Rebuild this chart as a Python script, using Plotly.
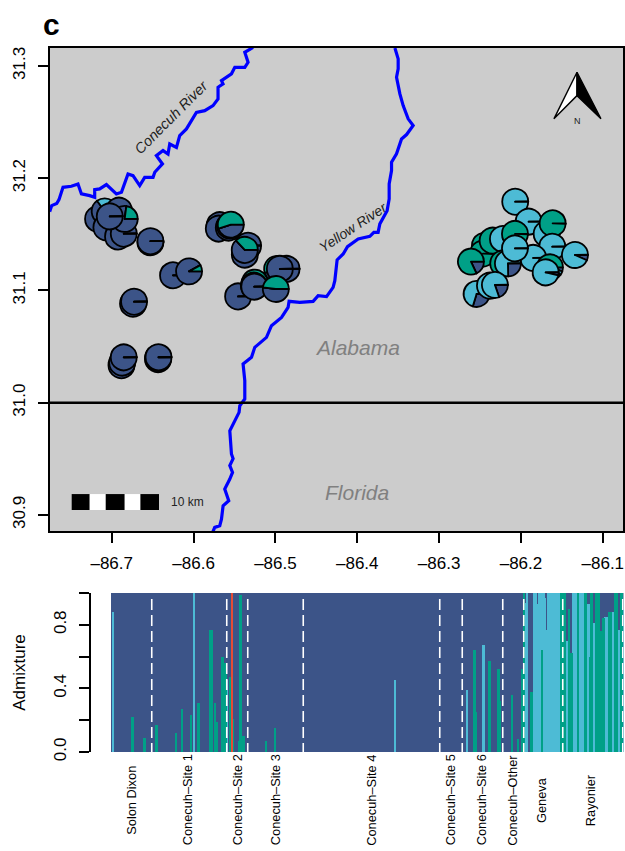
import plotly.graph_objects as go

NAVY, LB, GREEN, RED = "#3C5488", "#4DBBD5", "#00A087", "#E64B35"
FONT = "Liberation Sans"
W, H = 625, 851

# ---------- map data ----------
conecuh_lon = [-86.7758,-86.7733,-86.7672,-86.7644,-86.7595,-86.7493,-86.7412,-86.7370,-86.7269,-86.7208,-86.7208,-86.7147,-86.7065,-86.7004,-86.6943,-86.6881,-86.6801,-86.6740,-86.6658,-86.6597,-86.6495,-86.6474,-86.6380,-86.6454,-86.6373,-86.6312,-86.6291,-86.6209,-86.6169,-86.6087,-86.5965,-86.5863,-86.5762,-86.5701,-86.5701,-86.5640,-86.5659,-86.5537,-86.5496,-86.5374,-86.5334,-86.5374,-86.5273]
conecuh_lat = [31.1702,31.1756,31.1774,31.1809,31.1919,31.1928,31.1949,31.1860,31.1845,31.1830,31.1898,31.1905,31.1943,31.1905,31.1860,31.1875,31.2038,31.2023,31.1934,31.2008,31.2008,31.2053,31.2127,31.2201,31.2246,31.2216,31.2305,31.2275,31.2380,31.2439,31.2587,31.2602,31.2647,31.2707,31.2810,31.2840,31.2870,31.2930,31.2988,31.2988,31.3033,31.3122,31.3165]

yellow_lon = [-86.3540,-86.3500,-86.3500,-86.3520,-86.3479,-86.3439,-86.3378,-86.3317,-86.3397,-86.3459,-86.3520,-86.3581,-86.3581,-86.3610,-86.3610,-86.3635,-86.3724,-86.3745,-86.3797,-86.3846,-86.3989,-86.4119,-86.4172,-86.4246,-86.4274,-86.4295,-86.4375,-86.4478,-86.4539,-86.4702,-86.4833,-86.4845,-86.4925,-86.5048,-86.5109,-86.5252,-86.5292,-86.5395,-86.5374,-86.5374,-86.5435,-86.5444,-86.5557,-86.5537,-86.5517,-86.5557,-86.5524,-86.5557,-86.5619,-86.5570,-86.5639,-86.5659,-86.5680,-86.5741,-86.5769]
yellow_lat = [31.3160,31.3063,31.2974,31.2899,31.2751,31.2647,31.2529,31.2469,31.2389,31.2350,31.2217,31.2142,31.2068,31.1949,31.1815,31.1711,31.1593,31.1518,31.1518,31.1482,31.1459,31.1390,31.1325,31.1272,31.1087,31.1028,31.0945,31.0954,31.0903,31.0894,31.0903,31.0849,31.0760,31.0686,31.0582,31.0493,31.0404,31.0345,31.0196,31.0033,30.9973,30.9914,30.9750,30.9543,30.9501,30.9439,30.9379,30.9320,30.9231,30.9127,30.9082,30.8963,30.8904,30.8889,30.8841]

# pies, back to front; shares read anticlockwise from 3 o'clock: green, light blue, navy
pie_lon = [-86.7167,-86.7086,-86.6911,-86.7065,-86.6923,-86.6853,-86.6841,-86.7024,
           -86.6527,-86.6527,-86.6251,-86.6055,-86.6740,-86.6727,
           -86.6881,-86.6872,-86.6853,-86.6434,-86.6434,-86.6428,
           -86.5680,-86.5692,-86.5570,-86.5557,-86.5545,
           -86.5334,-86.5374,-86.5374,
           -86.5456,-86.5252,-86.5264,-86.5258,
           -86.4864,-86.4979,-86.4946,-86.4995,
           -86.2070,-86.1906,-86.1686,-86.1613,-86.1617,-86.1340,-86.1850,-86.1646,-86.1698,
           -86.2440,-86.2465,-86.2346,-86.2220,-86.2216,-86.2159,-86.2073,-86.2073,
           -86.2611,-86.2542,-86.2379,-86.2318]
pie_lat = [31.1637,31.1705,31.1711,31.1562,31.1480,31.1506,31.1637,31.1660,
           31.1429,31.1439,31.1135,31.1170,31.0882,31.0900,
           31.0334,31.0357,31.0404,31.0388,31.0398,31.0405,
           31.1582,31.1551,31.1560,31.1578,31.1586,
           31.1399,31.1319,31.1361,
           31.0947,31.1070,31.1043,31.1034,
           31.1192,31.1192,31.1192,31.1013,
           31.1791,31.1613,31.1504,31.1598,31.1390,31.1316,31.1290,31.1206,31.1161,
           31.1399,31.1328,31.1444,31.1459,31.1241,31.1241,31.1504,31.1375,
           31.1257,31.0969,31.1043,31.1049]
pie_green = [.003,.15,.003,.003,.003,.003,.23,.003,
             .003,.003,.003,.08,.003,.003,
             .003,.003,.003,.003,.003,.003,
             .003,.003,.003,.003,.55,
             .003,.003,.37,
             .003,.55,.003,.003,
             .003,.55,.003,.48,
             .003,.003,.003,.995,.003,.003,.003,.90,.003,
             .995,.995,.995,.003,.995,.003,.995,.003,
             .82,.003,.003,.003]
pie_lb = [0,.20,0,0,0,0,0,0,
          0,0,0,0,0,0,
          0,0,0,0,0,0,
          0,0,0,0,0,
          0,0,0,
          0,0,0,0,
          0,0,0,0,
          .997,.997,.997,.0,.997,.93,.997,.05,.96,
          .0,.0,.0,.997,.0,.75,.0,.997,
          .0,.70,.997,.80]
pie_navy = [round(1 - g - b, 3) for g, b in zip(pie_green, pie_lb)]

scale_lon = [-86.7489,-86.7269,-86.7073,-86.6841,-86.6649,-86.6422]
scale_lat = [30.9044,30.9186]
scale_fill = ["black","white","black","white","black"]

arrow_lon = [-86.1597,-86.1315,-86.1022]
arrow_lat = [31.2529,31.2736,31.2944]

x_ticks = [-86.7,-86.6,-86.5,-86.4,-86.3,-86.2,-86.1]
x_ticktext = ["–86.7","–86.6","–86.5","–86.4","–86.3","–86.2","–86.1"]
y_ticks = [30.9,31.0,31.1,31.2,31.3]
y_ticktext = ["30.9","31.0","31.1","31.2","31.3"]
x_range = [-86.7754,-86.0753]
y_range = [30.8857,31.316]

# ---------- admixture data ----------
n_ind = 342
green_idx = [14,22,30,43,47,53,58,66,67,69,70,74,75,76,79,81,85,86,88,103,109,242,243,252,258,259,267,271,274]
green_val = [.22,.09,.17,.12,.27,.23,.31,.77,.77,.31,.19,.60,.17,.56,.47,.21,.07,.99,.10,.07,.15,.64,.25,.57,.52,.32,.36,.08,.52]
lb_idx = [1,55,77,189,237,248]
lb_val = [.88,1.0,.45,.45,.39,.67]
lb_thin = [1,189]
red_idx = [80]
red_val = [1.0]
# individuals 275..341 (Geneva, Rayonier)
tail_green = [1,0,0,0,0,.38,0,0,0,0,0,0,.64,0,0,0,0,0,0,0,0,0,0,0,0,1,1,1,0,0,.90,.62,.62,0,0,0,1,0,0,0,0,1,0,0,.60,1,0,0,1,1,1,.76,0,.84,0,0,0,.88,.88,0,0,1,1,0,0,1,0]
tail_lb    = [0,.94,1,0,0,0,0,1,1,.93,1,1,0,1,.97,.765,1,1,.89,1,1,1,1,1,1,0,0,0,.70,.70,0,0,0,1,1,1,0,1,1,1,1,0,.93,.93,0,0,0,.81,0,0,0,0,.70,0,.85,.85,.85,0,0,.88,.88,0,0,.77,.77,0,.90]
group_breaks = [27,77,91,128,219,234,261,275,301,341]
group_names = ["Solon Dixon","Conecuh–Site 1","Conecuh–Site 2","Conecuh–Site 3","Conecuh–Site 4","Conecuh–Site 5","Conecuh–Site 6","Conecuh–Other","Geneva","Rayonier"]
group_centers = [13,50.7,84,109.3,173,226,246.7,267,286.5,319.3]
adm_ticks = [0,.2,.4,.6,.8,1]
adm_ticktext = ["0.0","","0.4","","0.8",""]

# ---------- build ----------
map_dom_x = [50/W, 623/W]
map_dom_y = [(H-531)/H, (H-48)/H]
bar_dom_x = [110.5/W, 623.5/W]
bar_dom_y = [(H-752)/H, (H-593)/H]

fig = go.Figure()
fig.add_trace(go.Scatter(x=conecuh_lon, y=conecuh_lat, mode="lines", line=dict(color="#0000FF", width=3.2), hoverinfo="skip"))
fig.add_trace(go.Scatter(x=yellow_lon, y=yellow_lat, mode="lines", line=dict(color="#0000FF", width=3.2), hoverinfo="skip"))
fig.add_trace(go.Scatter(x=x_range, y=[31.0, 31.0], mode="lines", line=dict(color="black", width=2.6), hoverinfo="skip"))

def px(lon):
    return map_dom_x[0] + (lon-x_range[0])/(x_range[1]-x_range[0])*(map_dom_x[1]-map_dom_x[0])
def py(lat):
    return map_dom_y[0] + (lat-y_range[0])/(y_range[1]-y_range[0])*(map_dom_y[1]-map_dom_y[0])
R = 13.0
for lon, lat, g, b, n in zip(pie_lon, pie_lat, pie_green, pie_lb, pie_navy):
    fig.add_trace(go.Pie(
        labels=["navy","lightblue","green"], values=[n,b,g], sort=False,
        direction="clockwise", rotation=90, textinfo="none", hoverinfo="skip",
        marker=dict(colors=[NAVY,LB,GREEN], line=dict(color="black", width=1.8)),
        domain=dict(x=[px(lon)-R/W, px(lon)+R/W], y=[py(lat)-R/H, py(lat)+R/H]),
    ))

bar_x = list(range(n_ind))
g_vals = [0.0]*n_ind
b_vals = [0.0]*n_ind
r_vals = [0.0]*n_ind
for i, v in zip(green_idx, green_val): g_vals[i] = v
for i, v in zip(lb_idx, lb_val): b_vals[i] = v
for i, v in zip(red_idx, red_val): r_vals[i] = v
for k in range(len(tail_green)):
    g_vals[275+k] = tail_green[k]
    b_vals[275+k] = tail_lb[k]
# overlaid cumulative layers: navy fills each column, the other ancestries sit on top of it
top_lb = [round(a+c, 3) for a, c in zip(g_vals, b_vals)]
lb_width = [0.6 if i in lb_thin else 1.1 for i in range(n_ind)]
layers = [("navy", [1.0]*n_ind, NAVY, 1.0), ("lb", top_lb, LB, lb_width), ("g", g_vals, GREEN, 1.2), ("red", r_vals, RED, 1.6)]
for name, vals, col, wd in layers:
    fig.add_trace(go.Bar(x=bar_x, y=vals, xaxis="x2", yaxis="y2", marker=dict(color=col, line=dict(width=0)), width=wd, hoverinfo="skip", name=name))

dash_x, dash_y = [], []
for b in group_breaks:
    dash_x += [b, b, None]
    dash_y += [.962, 0, None]
fig.add_trace(go.Scatter(x=dash_x, y=dash_y, xaxis="x2", yaxis="y2", mode="lines", line=dict(color="white", width=1.6, dash="11px,5px"), hoverinfo="skip"))

shapes = [dict(type="rect", xref="x domain", yref="y domain", x0=0, x1=1, y0=0, y1=1, fillcolor="#CCCCCC", line=dict(width=0), layer="below")]
for i, c in enumerate(scale_fill):
    shapes.append(dict(type="rect", xref="x", yref="y", x0=scale_lon[i], x1=scale_lon[i+1], y0=scale_lat[0], y1=scale_lat[1], fillcolor=c, line=dict(width=0), layer="above"))
left, mid, right = arrow_lon
low, notch, top = arrow_lat
shapes.append(dict(type="path", xref="x", yref="y", path=f"M{left},{low} L{mid},{top} L{mid},{notch} Z", fillcolor="white", line=dict(color="black", width=1.4)))
shapes.append(dict(type="path", xref="x", yref="y", path=f"M{right},{low} L{mid},{top} L{mid},{notch} Z", fillcolor="black", line=dict(color="black", width=1.4)))

ann = [
    dict(text="<b>c</b>", xref="paper", yref="paper", x=51.5/W, y=1-24/H, font=dict(size=30, color="black")),
    dict(text="<i>Conecuh River</i>", x=-86.627, y=31.2543, textangle=-45, font=dict(size=14.5, color="#222222")),
    dict(text="<i>Yellow River</i>", x=-86.405, y=31.1566, textangle=-33.5, font=dict(size=14, color="#222222")),
    dict(text="<i>Alabama</i>", x=-86.4, y=31.049, font=dict(size=21, color="#808080")),
    dict(text="<i>Florida</i>", x=-86.4, y=30.92, font=dict(size=21, color="#808080")),
    dict(text="10 km", x=-86.6073, y=30.9115, font=dict(size=12, color="#222222")),
    dict(text="N", x=-86.1315, y=31.2510, font=dict(size=9, color="#222222")),
]
for name, c in zip(group_names, group_centers):
    ann.append(dict(text=name, xref="x2", yref="paper", x=c, y=(H-800)/H, textangle=-90, font=dict(size=12.8, color="black")))
for a in ann:
    a.setdefault("xref", "x"); a.setdefault("yref", "y")
    a.update(showarrow=False, xanchor="center", yanchor="middle")

fig.update_layout(
    width=W, height=H, margin=dict(l=0, r=0, t=0, b=0), autosize=False,
    paper_bgcolor="white", plot_bgcolor="white", showlegend=False, barmode="overlay", bargap=0,
    font=dict(family=FONT, color="black"), shapes=shapes, annotations=ann,
    xaxis=dict(domain=map_dom_x, range=x_range, tickmode="array", tickvals=x_ticks, ticktext=x_ticktext,
               ticks="outside", ticklen=10, tickwidth=1.5, tickcolor="black", showline=True, mirror=True,
               linecolor="black", linewidth=1.5, showgrid=False, zeroline=False, tickfont=dict(size=17), ticklabelstandoff=6, automargin=False),
    yaxis=dict(domain=map_dom_y, range=y_range, tickmode="array", tickvals=y_ticks, ticktext=y_ticktext, tickangle=-90,
               ticks="outside", ticklen=10, tickwidth=1.5, tickcolor="black", showline=True, mirror=True,
               linecolor="black", linewidth=1.5, showgrid=False, zeroline=False, tickfont=dict(size=17), ticklabelstandoff=6, automargin=False),
    xaxis2=dict(domain=bar_dom_x, range=[-0.5, n_ind-0.5], anchor="y2", visible=False, automargin=False),
    yaxis2=dict(domain=bar_dom_y, range=[0, 1], anchor="free", position=90/W, tickmode="array", tickvals=adm_ticks, ticktext=adm_ticktext,
                tickangle=-90, ticks="outside", ticklen=10, tickwidth=1.5, tickcolor="black", showline=True, linecolor="black", linewidth=1.5,
                showgrid=False, zeroline=False, tickfont=dict(size=17), ticklabelstandoff=6, automargin=False,
                title=dict(text="Admixture", font=dict(size=17), standoff=21)),
)
fig.write_html("out.html", config=dict(displayModeBar=False), post_script="document.body.style.margin='0';")
